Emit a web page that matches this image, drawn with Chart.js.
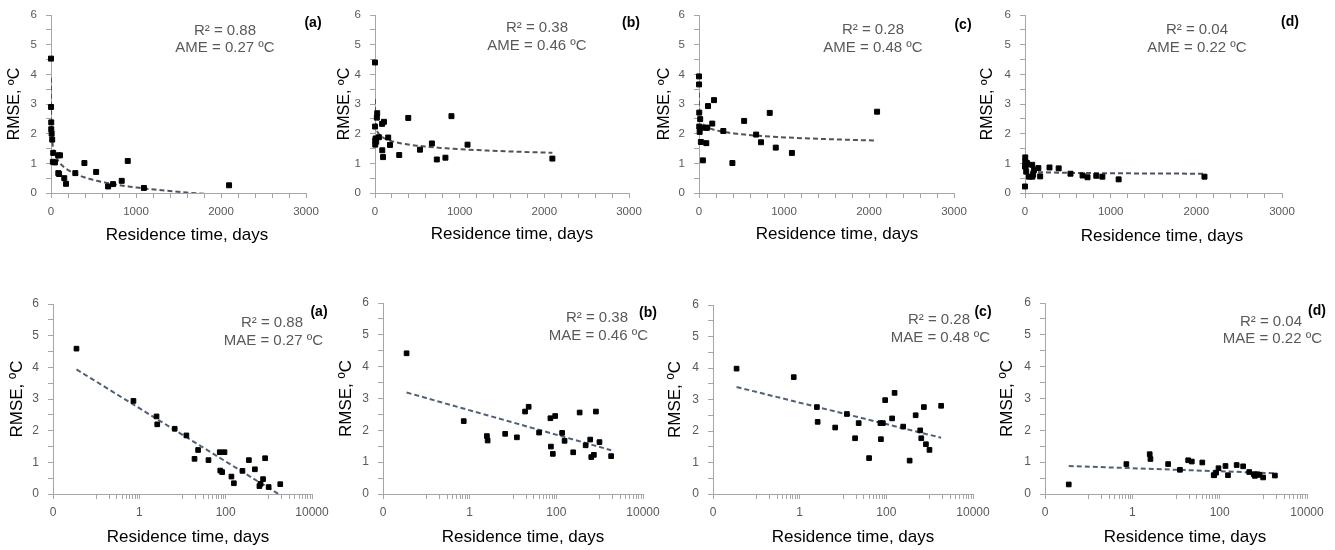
<!DOCTYPE html>
<html>
<head>
<meta charset="utf-8">
<script src="https://cdn.jsdelivr.net/npm/chart.js@4.4.1/dist/chart.umd.min.js"></script>
<style>
  body { margin: 0; background: #fff; width: 1335px; height: 550px; overflow: hidden; position: relative; }
  canvas { position: absolute; }
</style>
</head>
<body>
<canvas id="topA"></canvas>
<canvas id="topB"></canvas>
<canvas id="topC"></canvas>
<canvas id="topD"></canvas>
<canvas id="logA"></canvas>
<canvas id="logB"></canvas>
<canvas id="logC"></canvas>
<canvas id="logD"></canvas>
<script>
// Residence time of each site (days) as plotted in the top row (linear axis)
const topDays = [0.04, 0.8, 2.9, 3, 7.5, 14, 22, 26, 46, 84, 86, 95, 106, 156, 177, 286, 393, 531, 672, 730, 832, 903, 1093, 2095];
// RMSE (ºC) for the four models, top row
const topRmseA = [4.53, 2.90, 2.38, 2.15, 2.00, 1.80, 1.05, 1.35, 1.03, 1.27, 0.67, 0.64, 1.27, 0.50, 0.31, 0.67, 1.01, 0.71, 0.22, 0.30, 0.41, 1.08, 0.17, 0.26];
const topRmseB = [4.40, 2.24, 1.77, 1.63, 1.84, 1.73, 2.54, 2.69, 1.88, 2.33, 1.44, 1.21, 2.40, 1.87, 1.62, 1.28, 2.53, 1.46, 1.67, 1.13, 1.19, 2.59, 1.63, 1.16];
const topRmseC = [3.93, 3.66, 2.71, 2.24, 2.06, 2.49, 1.72, 2.20, 1.10, 2.20, 1.68, 2.20, 2.93, 2.34, 3.13, 2.09, 1.01, 2.43, 1.97, 1.71, 2.70, 1.53, 1.35, 2.74];
const topRmseD = [0.22, 0.89, 1.20, 1.05, 0.90, 0.72, 1.01, 0.97, 0.55, 0.95, 0.55, 0.62, 0.77, 0.84, 0.56, 0.86, 0.83, 0.65, 0.59, 0.53, 0.58, 0.55, 0.46, 0.55];

// Residence time (days) as plotted in the bottom row (log axis)
const logDays = [0.035, 0.73, 2.5, 2.6, 6.6, 12.3, 19, 23, 40, 73, 75, 83, 94, 136, 155, 245, 345, 475, 605, 640, 735, 820, 990, 1840];
const logRmseA = [4.59, 2.94, 2.45, 2.20, 2.06, 1.85, 1.11, 1.39, 1.07, 1.32, 0.74, 0.69, 1.32, 0.55, 0.34, 0.73, 1.07, 0.78, 0.25, 0.32, 0.47, 1.13, 0.22, 0.31];
const logRmseB = [4.42, 2.29, 1.82, 1.68, 1.89, 1.78, 2.59, 2.74, 1.93, 2.38, 1.49, 1.26, 2.45, 1.92, 1.67, 1.31, 2.56, 1.53, 1.71, 1.16, 1.23, 2.59, 1.63, 1.19];
const logRmseC = [3.98, 3.71, 2.76, 2.29, 2.11, 2.54, 1.77, 2.25, 1.14, 2.25, 1.74, 2.25, 2.98, 2.40, 3.21, 2.14, 1.06, 2.50, 2.02, 1.77, 2.76, 1.58, 1.40, 2.80];
const logRmseD = [0.30, 0.94, 1.25, 1.10, 0.94, 0.76, 1.06, 1.02, 0.99, 0.59, 0.59, 0.67, 0.81, 0.88, 0.59, 0.91, 0.87, 0.69, 0.62, 0.57, 0.62, 0.60, 0.52, 0.58];

// Log trend line y = a + b*log10(days) per panel, and the printed fit stats
const trendIntercept = [2.71, 2.63, 2.90, 0.81];
const trendSlope = [-0.841, -0.384, -0.341, -0.048];
const panelTags = ["(a)", "(b)", "(c)", "(d)"];
const r2Values = ["0.88", "0.38", "0.28", "0.04"];
const errValues = ["0.27", "0.46", "0.48", "0.22"];

// Axis tick labels
const linearTickLabels = [0, 1000, 2000, 3000];
const logMajorTicks = [0.01, 1, 100, 10000];
const logMajorLabels = ["0", "1", "100", "10000"];

const tickGray = "#595959";
const axisGray = "#a6a6a6";
const sans = "'Liberation Sans', Arial, sans-serif";

// draws the free text of a panel (fit stats, panel letter, x axis title)
const panelText = {
  id: "panelText",
  afterDraw(chart, args, opts) {
    const ctx = chart.ctx;
    (opts.items || []).forEach((t) => {
      ctx.save();
      ctx.font = t.font;
      ctx.fillStyle = t.color;
      ctx.textAlign = t.align;
      ctx.textBaseline = "middle";
      ctx.fillText(t.text, t.x, t.y);
      ctx.restore();
    });
  },
};

const topRow = {
  top: 0, height: 250, days: topDays, rmse: [topRmseA, topRmseB, topRmseC, topRmseD],
  log: false, errLabel: "AME", marker: 3.5, trendColor: "#4d5560", trendSteps: 120,
  tickFont: { family: sans, size: 11.5 }, titleFont: { family: sans, size: 16 },
  xTitleFont: "17px " + sans, statFont: "15px " + sans, statAlign: "center",
  xh: 57, tickPadX: 7, tickPadY: 9,
  panels: [
    { id: "topA", left: 0, width: 330, yw: 51, padT: 15, padR: 24, titlePad: 5, r2: [225, 31], err: [225, 48], tag: [313, 23], xt: [187, 235] },
    { id: "topB", left: 330, width: 330, yw: 45, padT: 15, padR: 31, titlePad: 5, r2: [207, 28], err: [207, 46], tag: [301, 23], xt: [182, 234] },
    { id: "topC", left: 650, width: 330, yw: 49, padT: 15, padR: 26, titlePad: 5, r2: [223, 30], err: [223, 48], tag: [313, 25], xt: [187, 234] },
    { id: "topD", left: 970, width: 365, yw: 55, padT: 15, padR: 53, titlePad: 8, r2: [227, 30], err: [227, 48], tag: [320, 22], xt: [192, 236] },
  ],
};

const logRow = {
  top: 270, height: 280, days: logDays, rmse: [logRmseA, logRmseB, logRmseC, logRmseD],
  log: true, errLabel: "MAE", marker: 3.3, trendColor: "#4f6178", trendSteps: 1,
  tickFont: { family: sans, size: 12 }, titleFont: { family: sans, size: 17 },
  xTitleFont: "17px " + sans, statFont: "15px " + sans, statAlign: "right",
  xh: 56, tickPadX: 6, tickPadY: 9,
  panels: [
    { id: "logA", left: 0, width: 340, yw: 53, padT: 34, padR: 28, titlePad: 7, r2: [303, 53], err: [323, 71], tag: [319, 42], xt: [188, 267] },
    { id: "logB", left: 330, width: 340, yw: 53, padT: 33, padR: 27, titlePad: 6, r2: [298, 48], err: [318, 66], tag: [318, 43], xt: [193, 267] },
    { id: "logC", left: 650, width: 350, yw: 63, padT: 35, padR: 27, titlePad: 15, r2: [320, 50], err: [340, 68], tag: [333, 42], xt: [203, 267] },
    { id: "logD", left: 970, width: 365, yw: 75, padT: 33, padR: 28, titlePad: 27, r2: [332, 52], err: [352, 69], tag: [347, 41], xt: [215, 267] },
  ],
};

function trendPoints(days, i, steps) {
  const lo = Math.log10(Math.min(...days));
  const hi = Math.log10(Math.max(...days));
  const pts = [];
  for (let k = 0; k <= steps; k++) {
    const lx = lo + ((hi - lo) * k) / steps;
    pts.push({ x: Math.pow(10, lx), y: trendIntercept[i] + trendSlope[i] * lx });
  }
  return pts;
}

function xScale(row) {
  const common = {
    grid: { drawOnChartArea: false, drawTicks: true, tickLength: 5, color: axisGray },
    border: { display: true, color: axisGray, width: 1 },
    afterFit: (s) => { s.height = row.xh; s.paddingLeft = 0; s.paddingRight = 0; },
  };
  if (row.log) {
    return Object.assign(common, {
      type: "logarithmic", min: 0.01, max: 10000,
      afterBuildTicks: (s) => {
        const t = [];
        [0.01, 1, 100].forEach((m) => {
          t.push(m);
          for (let k = 1; k <= 9; k++) t.push(m * 10 * k);
        });
        t.push(10000);
        s.ticks = t.map((v) => ({ value: v }));
      },
      ticks: {
        autoSkip: false, maxRotation: 0, padding: row.tickPadX, color: tickGray, font: row.tickFont,
        callback: (v) => {
          const j = logMajorTicks.indexOf(v);
          return j >= 0 ? logMajorLabels[j] : "";
        },
      },
    });
  }
  return Object.assign(common, {
    type: "linear", min: 0, max: 3000,
    ticks: {
      stepSize: 200, autoSkip: false, maxRotation: 0, padding: row.tickPadX, color: tickGray, font: row.tickFont,
      callback: (v) => (linearTickLabels.includes(v) ? String(v) : ""),
    },
  });
}

function makePanel(row, p, i) {
  const canvas = document.getElementById(p.id);
  canvas.width = p.width;
  canvas.height = row.height;
  canvas.style.left = p.left + "px";
  canvas.style.top = row.top + "px";

  const points = row.days.map((d, k) => ({ x: d, y: row.rmse[i][k] }));
  const items = [
    { text: "R² = " + r2Values[i], x: p.r2[0], y: p.r2[1], font: row.statFont, color: tickGray, align: row.statAlign },
    { text: row.errLabel + " = " + errValues[i] + " ºC", x: p.err[0], y: p.err[1], font: row.statFont, color: tickGray, align: row.statAlign },
    { text: panelTags[i], x: p.tag[0], y: p.tag[1], font: "bold 14px " + sans, color: "#000", align: "center" },
    { text: "Residence time, days", x: p.xt[0], y: p.xt[1], font: row.xTitleFont, color: "#000", align: "center" },
  ];

  new Chart(canvas, {
    type: "scatter",
    data: {
      datasets: [
        {
          data: points, pointStyle: "rect", pointRadius: row.marker,
          pointBackgroundColor: "#000", pointBorderColor: "#000", pointBorderWidth: 1,
          clip: false, order: 0,
        },
        {
          data: trendPoints(row.days, i, row.trendSteps), showLine: true, pointRadius: 0,
          borderColor: row.trendColor, borderWidth: 2, borderDash: [5, 3], order: 1,
        },
      ],
    },
    options: {
      responsive: false,
      animation: false,
      devicePixelRatio: 1,
      layout: { padding: { top: p.padT, right: p.padR, left: 0, bottom: 0 } },
      plugins: { legend: { display: false }, tooltip: { enabled: false }, panelText: { items } },
      scales: {
        x: xScale(row),
        y: {
          min: 0, max: 6,
          ticks: {
            stepSize: 0.5, autoSkip: false, padding: row.tickPadY, color: tickGray, font: row.tickFont,
            callback: (v) => (Number.isInteger(v) ? String(v) : ""),
          },
          grid: { drawOnChartArea: false, drawTicks: true, tickLength: 5, color: axisGray },
          border: { display: true, color: axisGray, width: 1 },
          title: { display: true, text: "RMSE, ºC", color: "#000", font: row.titleFont, padding: { top: p.titlePad, bottom: 0 } },
          afterFit: (s) => { s.width = p.yw; s.paddingTop = 0; s.paddingBottom = 0; },
        },
      },
    },
    plugins: [panelText],
  });
}

[topRow, logRow].forEach((row) => row.panels.forEach((p, i) => makePanel(row, p, i)));
</script>
</body>
</html>
